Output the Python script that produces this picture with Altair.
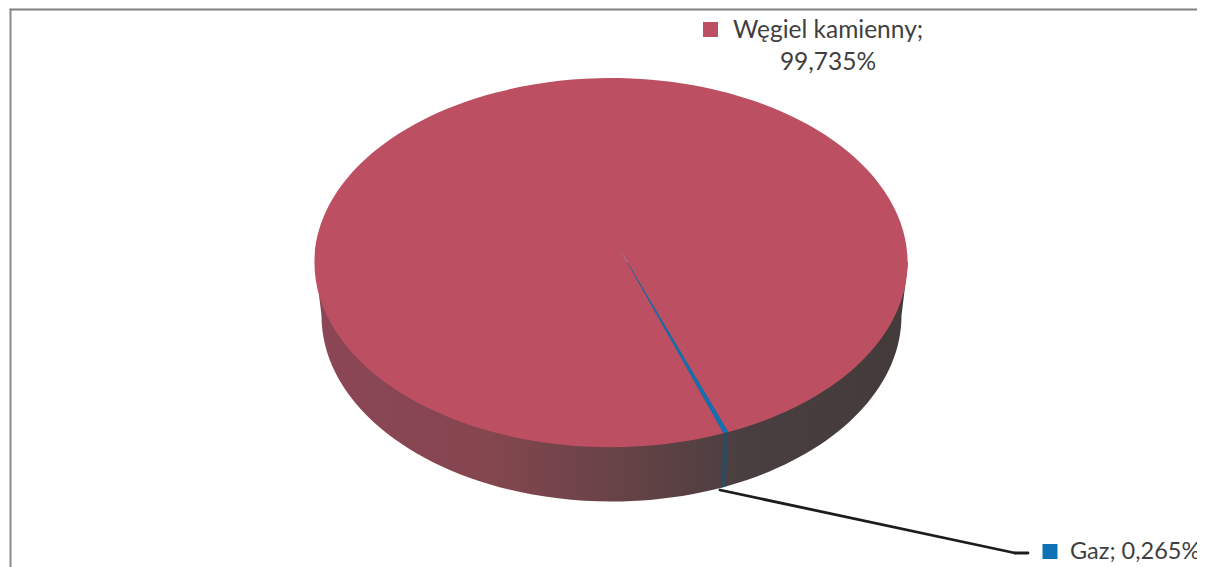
import math
import altair as alt
import pandas as pd

categories = ["Węgiel kamienny", "Gaz"]
shares = [99.735, 0.265]
slice_colors = ["#bd4f62", "#0f72b5"]
side_colors = ["#7a4450", "#2e4a60"]
text_color = "#3f3f3f"

W, H = 1189, 559
CX, CY = 603.5, 254.5
RX, RY = 296.5, 184.5
BRX, BRY, BDY = 290, 186, 53
VX, VY = 9, -12          # apex of the slices, shifted by the view's perspective
T_GAZ = math.radians(67.3)


def top(t):
    return RX * math.cos(t), RY * math.sin(t)


def low(t):
    return BRX * math.cos(t), BDY + BRY * math.sin(t)


d = math.radians(shares[1] / 100 * 360) * 1.0
t0, t1 = T_GAZ - d / 2, T_GAZ + d / 2


def p(pt):
    return f"{pt[0]:.2f},{pt[1]:.2f}"


top_paths = [
    f"M{VX},{VY} L{p(top(t1))} A{RX},{RY} 0 1 1 {p(top(t0))} Z",
    f"M{VX},{VY} L{p(top(t0))} A{RX},{RY} 0 0 1 {p(top(t1))} Z",
]
side_paths = [
    f"M{-RX},0 L{-BRX},{BDY} A{BRX},{BRY} 0 0 0 {BRX},{BDY} L{RX},0 Z",
    f"M{p(top(t0))} L{p(low(t0))} L{p(low(t1))} L{p(top(t1))} Z",
]

table = pd.DataFrame({
    "category": categories,
    "share": shares,
    "top_path": top_paths,
    "side_path": side_paths,
})

colour = alt.Color(
    "category:N",
    scale=alt.Scale(domain=categories, range=slice_colors),
    legend=None,
)

side_gradient = alt.LinearGradient(
    gradient="linear",
    x1=0, x2=1, y1=0, y2=0,
    stops=[
        alt.GradientStop(color="#8c4656", offset=0),
        alt.GradientStop(color="#84464f", offset=0.3),
        alt.GradientStop(color="#624245", offset=0.55),
        alt.GradientStop(color="#4a3f40", offset=0.72),
        alt.GradientStop(color="#433a3a", offset=1),
    ],
)

centre = dict(x=alt.value(CX), y=alt.value(CY), size=alt.value(4))

body = (
    alt.Chart(table).transform_filter(f"datum.category == '{categories[0]}'")
    .mark_point(filled=True, fill=side_gradient, opacity=1, strokeWidth=0)
    .encode(shape=alt.Shape("side_path:N", scale=None, legend=None), **centre)
)
gaz_side = (
    alt.Chart(table).transform_filter(f"datum.category == '{categories[1]}'")
    .mark_point(filled=True, fill=side_colors[1], opacity=1, strokeWidth=0)
    .encode(shape=alt.Shape("side_path:N", scale=None, legend=None), **centre)
)
slices = (
    alt.Chart(table)
    .mark_point(filled=True, opacity=1, strokeWidth=0)
    .encode(shape=alt.Shape("top_path:N", scale=None, legend=None), color=colour, **centre)
)


def rule(x, y, x2, y2, color, width):
    return alt.Chart(table.head(1)).mark_rule(color=color, strokeWidth=width, strokeCap="round").encode(
        x=alt.value(x), y=alt.value(y), x2=alt.value(x2), y2=alt.value(y2)
    )


frame_left = rule(2.5, 1.5, 2.5, H, "#8a8a8a", 2)
frame_top = rule(2.5, 1.5, W, 1.5, "#808080", 2)
leader_a = rule(712, 482, 1007, 545, "#1c1c1c", 2.8)
leader_b = rule(1007, 545, 1020, 545, "#1c1c1c", 2.8)


def marker(cat, x, y):
    return (
        alt.Chart(table).transform_filter(f"datum.category == '{cat}'")
        .mark_point(shape="square", filled=True, opacity=1, strokeWidth=0)
        .encode(x=alt.value(x), y=alt.value(y), size=alt.value(225), color=colour)
    )


def share_text(v):
    return f"{v:.3f}".replace(".", ",") + "%"


def label(text, x, y, align="left", size=24.5):
    return (
        alt.Chart(pd.DataFrame({"t": [text]}))
        .mark_text(font="Lato", fontSize=size, color=text_color, align=align, baseline="alphabetic")
        .encode(text="t:N", x=alt.value(x), y=alt.value(y))
    )


labels = [
    label(categories[0] + ";", 725, 30),
    label(share_text(shares[0]), 820, 62, "center"),
    label(f"{categories[1]}; {share_text(shares[1])}", 1062, 551, size=23.5),
]

chart = alt.layer(
    frame_left, frame_top, body, gaz_side, slices, leader_a, leader_b,
    marker(categories[0], 702.5, 21.5), marker(categories[1], 1042, 543.5),
    *labels,
).properties(
    width=W, height=H, padding=0,
    autosize=alt.AutoSizeParams(type="none"),
    background="#ffffff",
).configure_view(stroke=None)

chart.save("out.html", embed_options={"renderer": "svg", "actions": False})
